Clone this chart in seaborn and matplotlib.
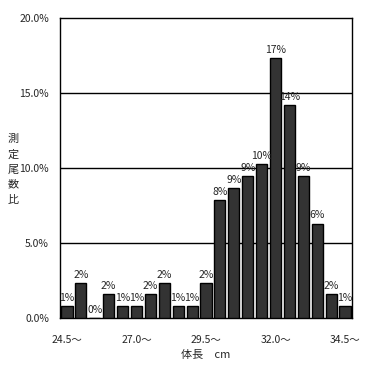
import matplotlib
matplotlib.use("Agg")
import matplotlib.pyplot as plt
import seaborn as sns
import pandas as pd

# data
lengths = [24.5 + 0.5 * i for i in range(21)]
percent = [0.79, 2.36, 0.0, 1.57, 0.79, 0.79, 1.57, 2.36, 0.79, 0.79, 2.36,
           7.87, 8.66, 9.45, 10.24, 17.32, 14.17, 9.45, 6.30, 1.57, 0.79]
bar_labels = ["1%", "2%", "0%", "2%", "1%", "1%", "2%", "2%", "1%", "1%", "2%",
              "8%", "9%", "9%", "10%", "17%", "14%", "9%", "6%", "2%", "1%"]
xtick_pos = [0, 5, 10, 15, 20]
xtick_labels = ["24.5～", "27.0～", "29.5～", "32.0～", "34.5～"]
ytick_vals = [0, 5, 10, 15, 20]
ytick_labels = ["0.0%", "5.0%", "10.0%", "15.0%", "20.0%"]
ylabel_chars = ["測", "定", "尾", "数", "比"]

sns.set_style("white")
plt.rcParams['font.family'] = ['Noto Sans CJK JP', 'DejaVu Sans']

df = pd.DataFrame({"x": [f"{v:.1f}" for v in lengths], "y": percent})

fig = plt.figure(figsize=(3.70, 3.69), dpi=100)
ax = fig.add_axes([60/370, 1 - 318/369, 292/370, 300/369])
sns.barplot(data=df, x="x", y="y", color="#333333", edgecolor="black",
            linewidth=1.0, width=0.8, saturation=1, ax=ax, zorder=3)
for i, (v, lab) in enumerate(zip(percent, bar_labels)):
    ax.text(i, v + 0.2, lab, ha="center", va="bottom", fontsize=7.5, zorder=4)

ax.set_ylim(0, 20)
ax.set_xlim(-0.5, 20.5)
ax.set_yticks(ytick_vals)
ax.set_yticklabels(ytick_labels, fontsize=7.5)
ax.set_xticks(xtick_pos)
ax.set_xticklabels(xtick_labels, fontsize=7.5)
ax.tick_params(axis="y", length=0, pad=8)
ax.tick_params(axis="x", length=0, pad=12)
for y in [5, 10, 15]:
    ax.axhline(y, color="black", linewidth=1.0, zorder=1)
for s in ax.spines.values():
    s.set_visible(True)
    s.set_color("black")
    s.set_linewidth(1.0)
ax.set_xlabel("体長　cm", fontsize=8, labelpad=4)
ax.set_ylabel("")
for k, ch in enumerate(ylabel_chars):
    fig.text(13/370, 1 - (139 + 15.2 * k)/369, ch, ha="center", va="center",
             fontsize=8)

fig.savefig("out.png", dpi=100, facecolor="white")
